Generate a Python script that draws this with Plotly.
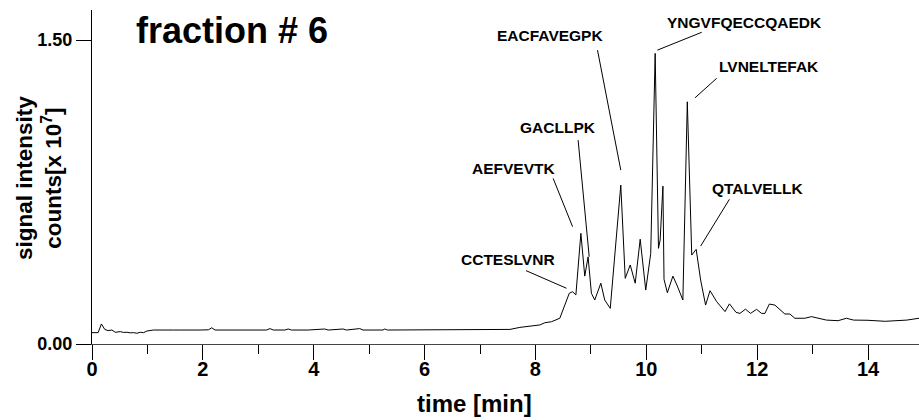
import plotly.graph_objects as go

# retention time [min]
time_min = [0.00, 0.11, 0.17, 0.23, 0.29, 0.36, 0.42, 0.51, 0.57, 0.63, 0.69, 0.75, 0.81, 0.87, 0.93,
            0.99, 1.11, 1.23, 1.35, 1.47, 1.59, 1.71, 1.83, 1.95, 2.10, 2.16, 2.22, 2.40, 2.55, 2.61,
            2.90, 3.15, 3.21, 3.27, 3.48, 3.54, 3.60, 3.90, 4.20, 4.26, 4.53, 4.59, 4.83, 4.89, 5.25,
            5.28, 5.33, 5.70, 6.10, 6.48, 6.52, 6.90, 7.17, 7.22, 7.40, 7.54, 7.72, 7.90, 8.08, 8.17,
            8.29, 8.44, 8.61, 8.67, 8.73, 8.82, 8.89, 8.95, 9.01, 9.07, 9.18, 9.25, 9.35, 9.54, 9.62,
            9.71, 9.80, 9.89, 9.99, 10.08, 10.16, 10.22, 10.25, 10.30, 10.32, 10.38, 10.48, 10.56, 10.66,
            10.74, 10.82, 10.90, 10.98, 11.07, 11.15, 11.27, 11.42, 11.50, 11.62, 11.69, 11.79, 11.88,
            11.99, 12.08, 12.14, 12.22, 12.32, 12.50, 12.59, 12.68, 12.86, 12.98, 13.25, 13.46, 13.61,
            13.74, 14.00, 14.31, 14.50, 14.70, 14.92]

# signal intensity [x 10^7 counts]
intensity = [0.056, 0.056, 0.099, 0.072, 0.066, 0.069, 0.058, 0.061, 0.057, 0.058, 0.055, 0.056, 0.053, 0.058, 0.056,
             0.064, 0.069, 0.068, 0.067, 0.069, 0.069, 0.068, 0.069, 0.069, 0.070, 0.080, 0.069, 0.069, 0.067, 0.069,
             0.069, 0.069, 0.076, 0.069, 0.069, 0.074, 0.069, 0.069, 0.074, 0.069, 0.074, 0.069, 0.076, 0.069, 0.069,
             0.074, 0.069, 0.069, 0.069, 0.072, 0.069, 0.069, 0.072, 0.069, 0.069, 0.072, 0.082, 0.089, 0.094, 0.105,
             0.110, 0.127, 0.250, 0.258, 0.242, 0.546, 0.335, 0.430, 0.250, 0.217, 0.300, 0.217, 0.176, 0.784, 0.324,
             0.390, 0.300, 0.517, 0.266, 0.447, 1.434, 0.472, 0.513, 0.779, 0.319, 0.253, 0.335, 0.286, 0.217,
             1.195, 0.439, 0.467, 0.316, 0.192, 0.263, 0.209, 0.160, 0.198, 0.156, 0.151, 0.172, 0.151,
             0.171, 0.151, 0.151, 0.197, 0.192, 0.148, 0.148, 0.127, 0.127, 0.135, 0.118, 0.115, 0.127,
             0.118, 0.117, 0.112, 0.116, 0.118, 0.127]

# peptide labels: text, label centre (t, v), leader line start (t, v) and end (t, v)
peptides = ["CCTESLVNR", "AEFVEVTK", "GACLLPK", "EACFAVEGPK", "YNGVFQECCQAEDK", "LVNELTEFAK", "QTALVELLK"]
label_t = [7.50, 7.60, 8.41, 8.27, 11.78, 12.21, 12.01]
label_v = [0.419, 0.868, 1.066, 1.520, 1.584, 1.367, 0.765]
line_t0 = [7.83, 8.32, 8.77, 9.12, 10.20, 10.88, 10.98]
line_v0 = [0.362, 0.817, 1.006, 1.450, 1.450, 1.215, 0.483]
line_t1 = [8.56, 8.67, 8.97, 9.54, 11.00, 11.27, 11.50]
line_v1 = [0.275, 0.579, 0.431, 0.858, 1.538, 1.311, 0.714]

x_tickvals = [0, 2, 4, 6, 8, 10, 12, 14]
y_tickvals = [0.0, 1.5]
y_ticktext = ["0.00", "1.50"]

FONT = "Liberation Sans, Arial, Helvetica, sans-serif"

fig = go.Figure()
fig.add_trace(go.Scatter(x=time_min, y=intensity, mode="lines",
                         line=dict(color="black", width=1), showlegend=False, hoverinfo="skip"))

for i, name in enumerate(peptides):
    fig.add_shape(type="line", xref="x", yref="y",
                  x0=line_t0[i], y0=line_v0[i], x1=line_t1[i], y1=line_v1[i],
                  line=dict(color="black", width=1))
    fig.add_annotation(x=label_t[i], y=label_v[i], xref="x", yref="y", text="<b>" + name + "</b>",
                       showarrow=False, xanchor="center", yanchor="middle",
                       font=dict(family=FONT, size=15.5, color="black"))

fig.add_annotation(x=0.169, y=0.940, xref="paper", yref="paper", text="<b>fraction # 6</b>",
                   showarrow=False, xanchor="center", yanchor="middle",
                   font=dict(family=FONT, size=36, color="black"))

fig.add_annotation(x=-0.0641, y=0.497, xref="paper", yref="paper",
                   text="<b>signal intensity</b><br><b>counts[x 10<sup>7</sup>]</b>", textangle=-90,
                   showarrow=False, xanchor="center", yanchor="middle",
                   font=dict(family=FONT, size=22.5, color="black"))

fig.add_annotation(x=0.463, y=-0.177, xref="paper", yref="paper", text="<b>time [min]</b>",
                   showarrow=False, xanchor="center", yanchor="middle",
                   font=dict(family=FONT, size=24, color="black"))

fig.update_layout(
    width=919, height=420,
    margin=dict(l=92, r=0, t=10, b=76, autoexpand=False),
    paper_bgcolor="white", plot_bgcolor="white",
    showlegend=False,
    xaxis=dict(range=[0, 14.92], tickvals=x_tickvals, ticks="outside", ticklen=15, tickwidth=1,
               tickcolor="black", showline=True, linecolor="#444", linewidth=1, showgrid=False,
               zeroline=False, ticklabelstandoff=-8,
               minor=dict(dtick=1, tick0=0, ticks="outside", ticklen=9, tickwidth=1, tickcolor="black",
                          showgrid=False),
               tickfont=dict(family=FONT, size=20, color="black", weight="bold")),
    yaxis=dict(range=[0, 1.648], tickvals=y_tickvals, ticktext=y_ticktext, ticks="outside",
               ticklen=15, tickwidth=1, tickcolor="black", showline=True, linecolor="black",
               linewidth=1, showgrid=False, zeroline=False,
               tickfont=dict(family=FONT, size=18, color="black", weight="bold")),
)

fig.write_html("out.html")
